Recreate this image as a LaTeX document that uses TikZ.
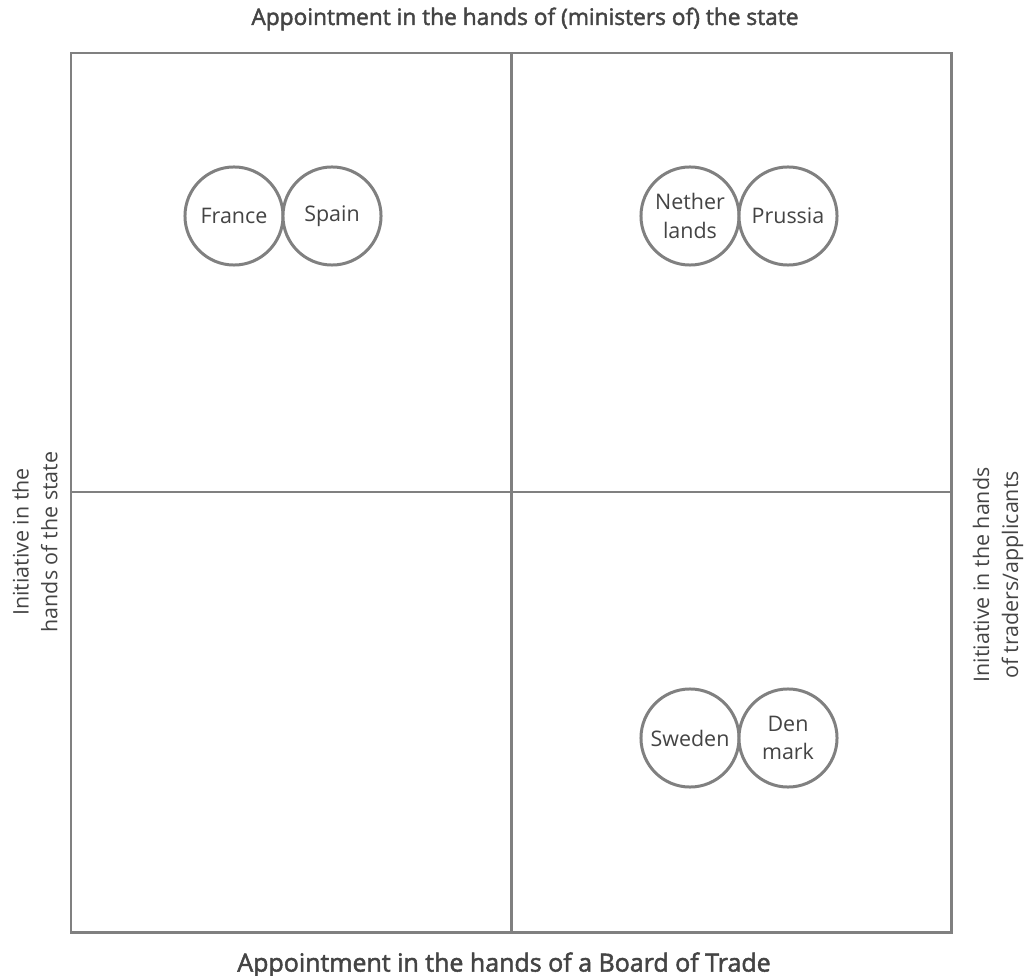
\documentclass[tikz,border=0pt]{standalone}
\usepackage{fontspec}
\setmainfont{Open Sans}
\newfontfamily\axisfont{Open Sans}[FakeBold=2]
\definecolor{linegray}{HTML}{808080}
\definecolor{textgray}{HTML}{444444}

\begin{document}
\begin{tikzpicture}[x=0.01cm,y=-0.01cm,
    font=\fontsize{6.1}{8.2}\selectfont,
    country/.style={circle, draw=linegray, line width=0.85pt, fill=white,
        minimum size=0.98cm, inner sep=0pt, align=center, text=textgray},
    axislabel/.style={text=textgray, align=center}]

    \useasboundingbox (0,0) rectangle (1024,976);

    % quadrant frame
    \draw[linegray, line width=0.85pt] (71,53) rectangle (951,932);
    \draw[linegray, line width=0.85pt] (511,53) -- (511,932);
    \draw[linegray, line width=0.85pt] (71,492) -- (951,492);

    % axis labels
    \node[axislabel, font=\axisfont\fontsize{6.45}{8}\selectfont] (toplabel) at (525,19) {Appointment in the hands of (ministers of) the state};
    \node[axislabel, font=\axisfont\fontsize{7.1}{8}\selectfont] (bottomlabel) at (504,965) {Appointment in the hands of a Board of Trade};
    \node[axislabel, rotate=90] (leftlabel) at (35,542) {Initiative in the\\hands of the state};
    \node[axislabel, rotate=90] (rightlabel) at (998,575) {Initiative in the hands\\of traders/applicants};

    % countries
    \node[country] (france) at (234,216) {France};
    \node[country] (spain) at (332,216) {Spain};
    \node[country] (netherlands) at (690,216) {Nether\\lands};
    \node[country] (prussia) at (788,216) {Prussia};
    \node[country] (sweden) at (690,738) {Sweden};
    \node[country] (denmark) at (788,738) {Den\\mark};

\end{tikzpicture}
\end{document}
